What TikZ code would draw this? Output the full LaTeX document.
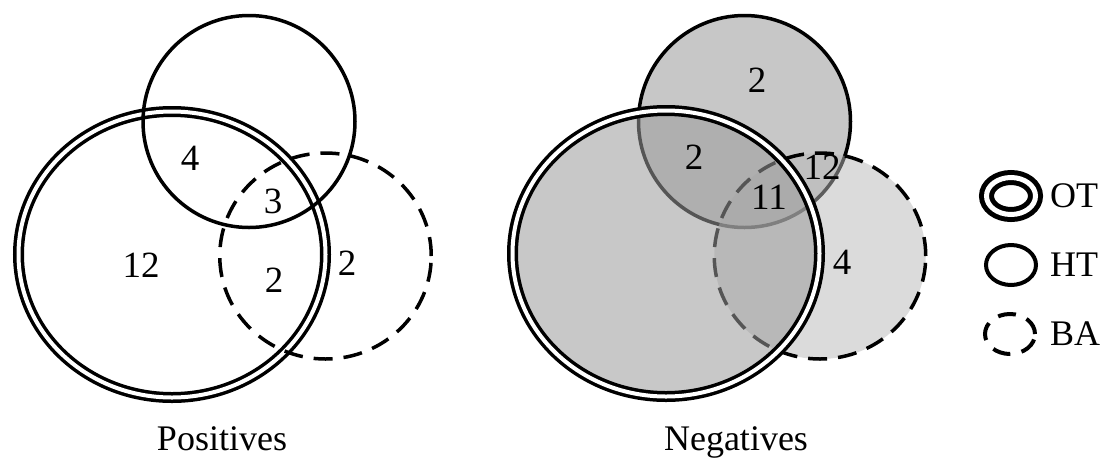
\documentclass[tikz,border=0pt]{standalone}
\usepackage{fontspec}
\setmainfont{Liberation Serif}
\definecolor{htc}{gray}{0.78}
\definecolor{bac}{gray}{0.725}
\definecolor{otc}{gray}{0.61}
\begin{document}
\begin{tikzpicture}[x=1pt,y=-1pt,
  num/.style={font=\fontsize{37}{42}\selectfont, inner sep=0pt},
  caption/.style={font=\fontsize{36}{42}\selectfont, inner sep=0pt, anchor=base},
  legtext/.style={font=\fontsize{36}{42}\selectfont, inner sep=0pt, anchor=west},
  otline/.style={draw=black, line width=3.5pt, double=white, double distance=4pt},
  htline/.style={draw=black, line width=3.5pt},
  baline/.style={draw=black, line width=3.5pt, dash pattern=on 19pt off 11pt},
  htfill/.style={fill=htc},
  bafill/.style={fill=bac, fill opacity=0.5},
  otfill/.style={fill=otc, fill opacity=0.55},
]
\useasboundingbox (0,0) rectangle (1106,459);
\fill[white] (0,0) rectangle (1106,459);

% ---------- Positives ----------
\draw[otline] (172,254.5) ellipse [x radius=153.5pt, y radius=143pt];
\draw[htline] (249,121.5) circle [radius=106pt];
\draw[baline] (325.5,256) ellipse [x radius=105.75pt, y radius=103pt];

\node[num] (p4)  at (190,158) {4};
\node[num] (p3)  at (273,201) {3};
\node[num] (p12) at (141,265) {12};
\node[num] (p2a) at (274,280) {2};
\node[num] (p2b) at (347,263) {2};
\node[caption] (pos) at (222,450) {Positives};

% ---------- Negatives ----------
\fill[htfill] (744.5,121.5) circle [radius=106pt];
\draw[htline] (744.5,121.5) circle [radius=106pt];
\fill[bafill] (820,256) ellipse [x radius=105.75pt, y radius=103pt];
\draw[baline] (820,256) ellipse [x radius=105.75pt, y radius=103pt];
\fill[otfill] (666,253.5) ellipse [x radius=153.5pt, y radius=143pt];
\draw[otline] (666,253.5) ellipse [x radius=153.5pt, y radius=143pt];

\node[num] (n2a) at (757,80) {2};
\node[num] (n2b) at (694,157) {2};
\node[num] (n12) at (822,167) {12};
\node[num] (n11) at (769,197) {11};
\node[num] (n4)  at (842,262) {4};
\node[caption] (neg) at (736,450) {Negatives};

% ---------- Legend ----------
\draw[draw=black, line width=5pt, double=white, double distance=5pt] (1011,196) ellipse [x radius=24.5pt, y radius=18.5pt];
\draw[line width=4pt] (1011,265) ellipse [x radius=25pt, y radius=20pt];
\draw[line width=4pt, dash pattern=on 18pt off 11.5pt] (1010,334) ellipse [x radius=25pt, y radius=20pt];
\node[legtext] (lot) at (1050,196) {OT};
\node[legtext] (lht) at (1050,265) {HT};
\node[legtext] (lba) at (1050,334) {BA};
\end{tikzpicture}
\end{document}
